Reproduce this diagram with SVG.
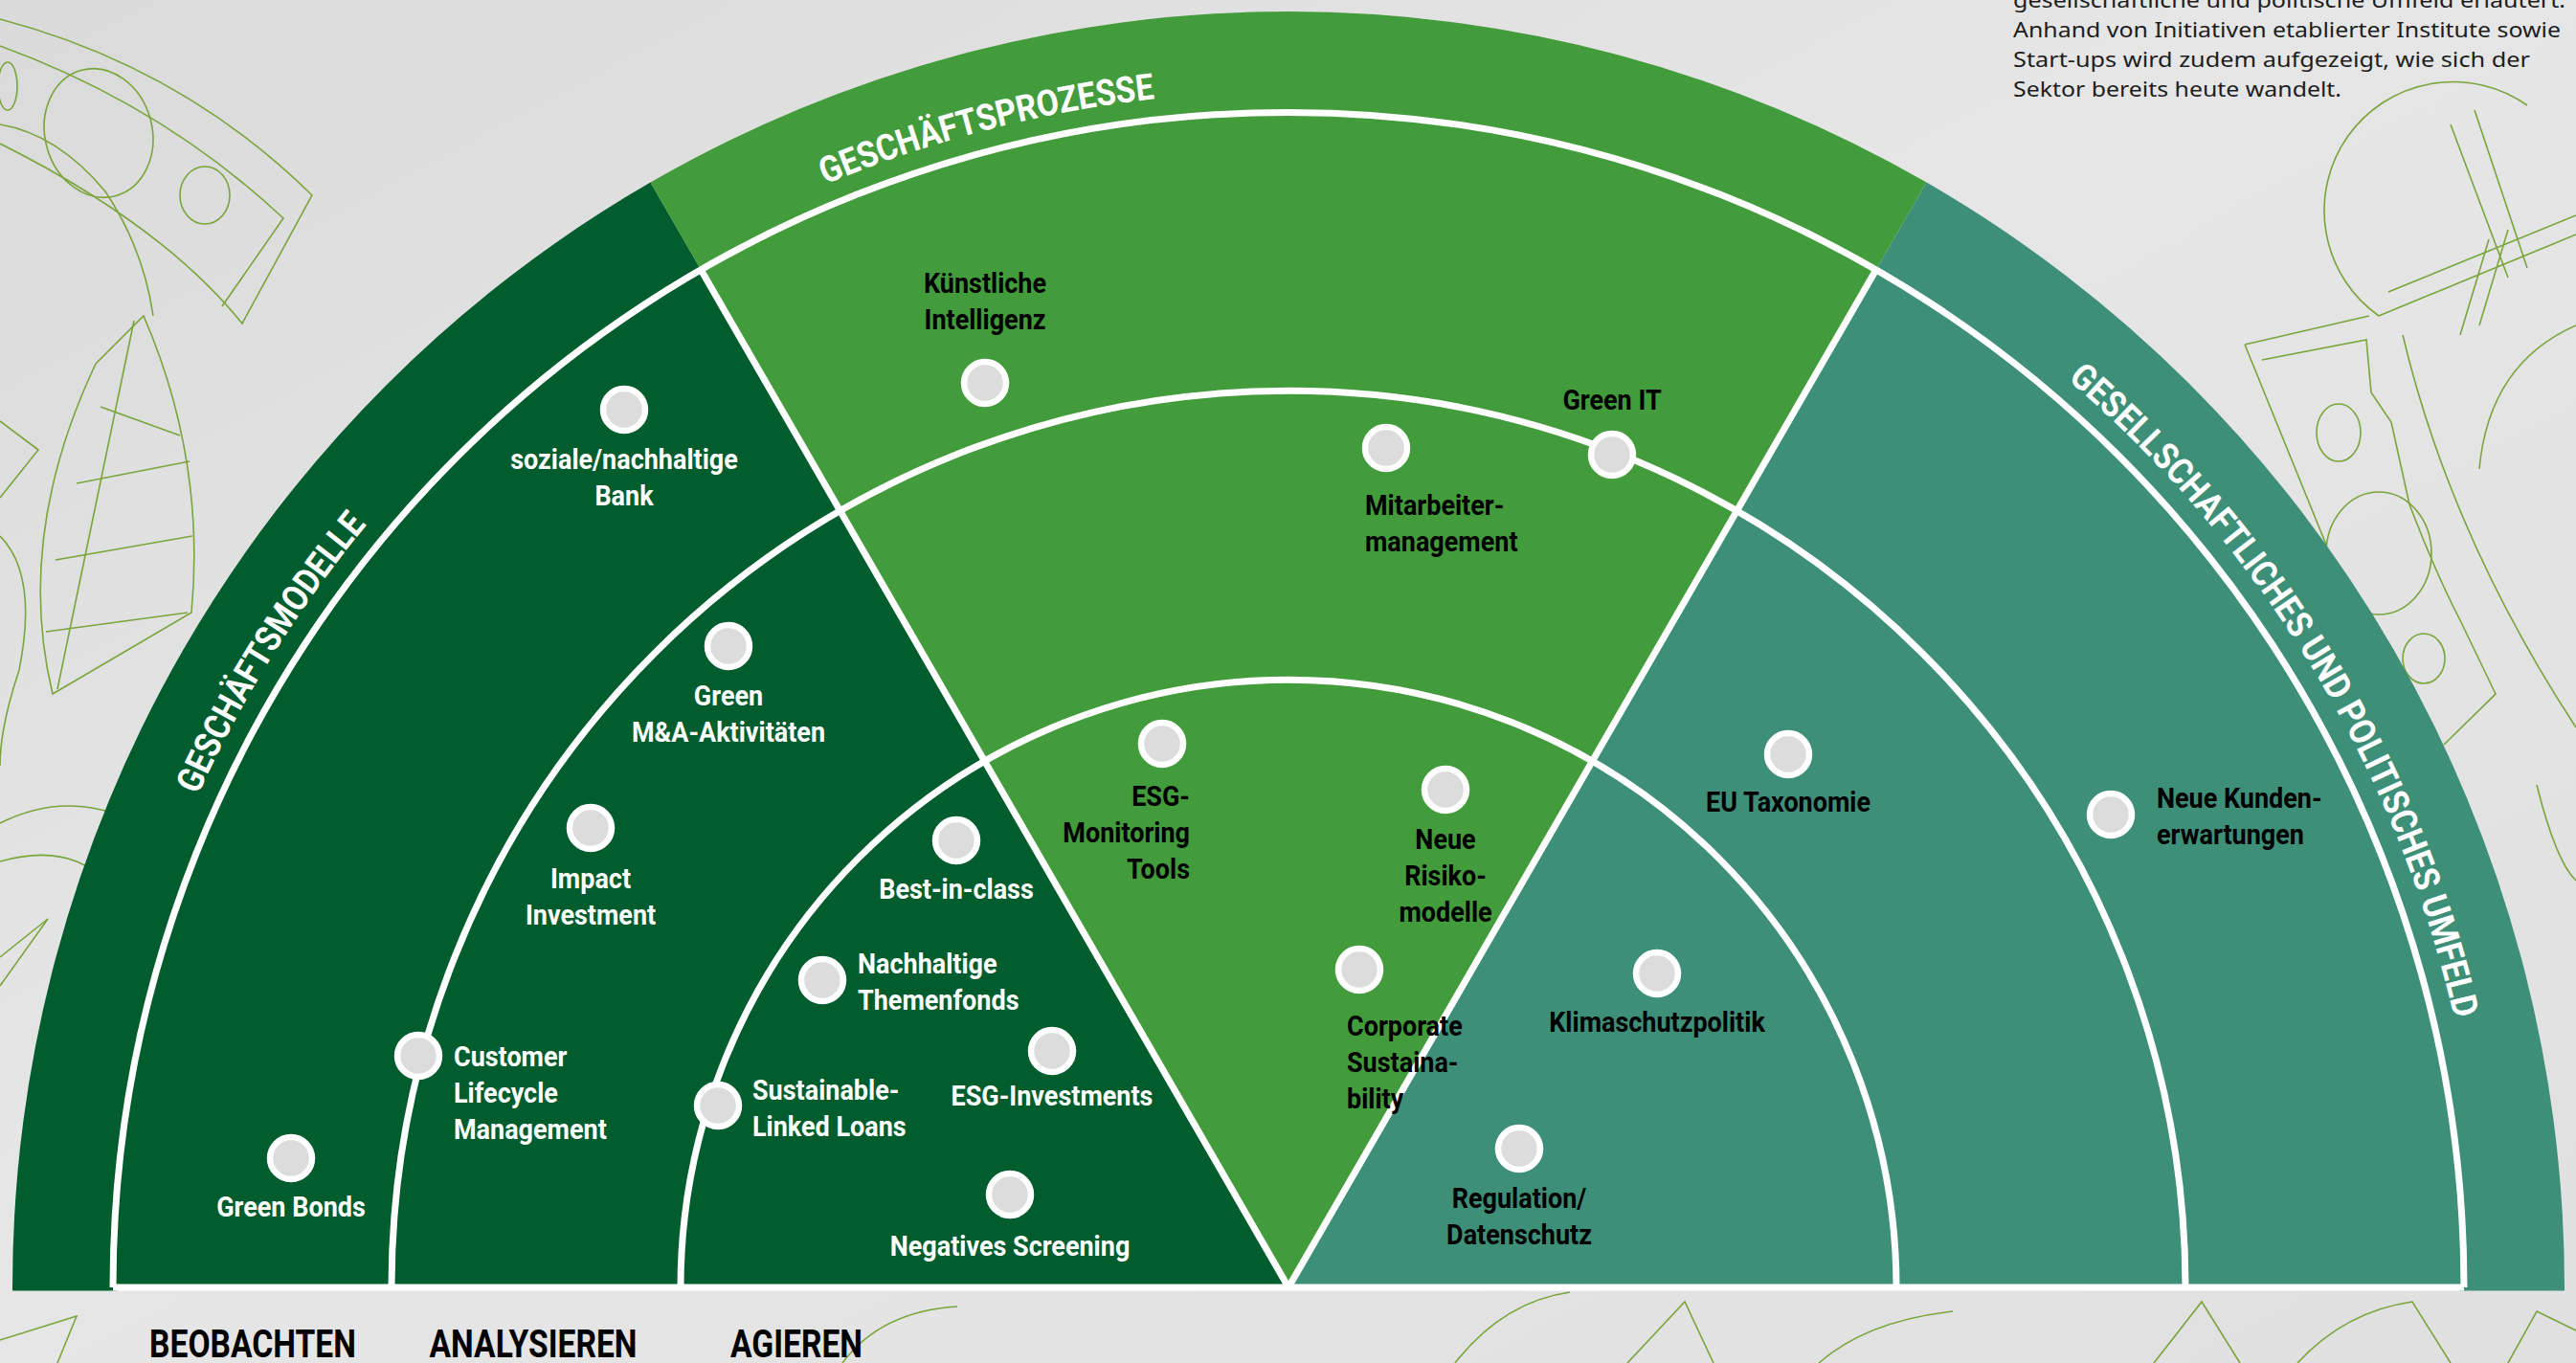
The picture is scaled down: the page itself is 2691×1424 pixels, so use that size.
<svg xmlns="http://www.w3.org/2000/svg" width="2691" height="1424" viewBox="0 0 2691 1424">
<defs>
<linearGradient id="bg" x1="0" y1="0" x2="1" y2="1">
<stop offset="0" stop-color="#dadada"/>
<stop offset="0.45" stop-color="#e6e6e6"/>
<stop offset="1" stop-color="#e0e0e0"/>
</linearGradient>
<path id="bandPath" d="M 96 1345 A 1250 1250 0 0 1 2596 1345"/>
<style>
.lw{font-family:Roboto,"Liberation Sans",sans-serif;font-weight:700;font-size:30px;fill:#ffffff}
.lb{font-family:Roboto,"Liberation Sans",sans-serif;font-weight:700;font-size:30px;fill:#000000}
.node circle{fill:#dcdcdc;stroke:#ffffff;stroke-width:6.5}
.ring{fill:none;stroke:#ffffff;stroke-width:7}
.band{font-family:Roboto,"Liberation Sans",sans-serif;font-weight:700;font-size:38px;fill:#ffffff}
.axis{font-family:Roboto,"Liberation Sans",sans-serif;font-weight:700;font-size:40px;fill:#000000}
.deco{fill:none;stroke:#7aa43c;stroke-width:1.6}
.para{font-family:"Noto Sans","Liberation Sans",sans-serif;font-size:22px;fill:#1d1d1d}
</style>
</defs>

<rect x="0" y="0" width="2691" height="1424" fill="url(#bg)"/>

<g id="decorations">
<path class="deco" d="M0 20 Q190 70 326 204 L253 338 Q170 235 0 150"/>
<path class="deco" d="M0 48 Q170 110 296 228 L232 320"/>
<ellipse class="deco" cx="103" cy="139" rx="56" ry="68" transform="rotate(-15 103 139)"/>
<ellipse class="deco" cx="214" cy="204" rx="26" ry="30"/>
<ellipse class="deco" cx="8" cy="90" rx="10" ry="25"/>
<path class="deco" d="M0 130 Q60 140 110 200 Q150 260 160 330"/>
<path class="deco" d="M150 330 Q215 480 200 640 L55 725 Q15 560 100 380 Z"/>
<path class="deco" d="M105 425 L188 455 M80 505 L198 482 M58 585 L201 560 M48 660 L196 640 M140 335 L60 720"/>
<path class="deco" d="M0 440 L40 470 L0 520 M0 560 Q40 600 20 700 Q0 760 0 800"/>
<path class="deco" d="M0 860 Q60 830 120 850 M0 900 Q70 880 110 920 M0 1000 L50 960 L0 1030"/>
<path class="deco" d="M2640 110 A125 125 0 0 0 2485 330 M2485 330 L2691 245 M2495 305 L2691 225 M2560 130 L2620 290 M2585 115 L2640 280 M2590 340 L2620 240 M2570 350 L2600 250"/>
<path class="deco" d="M2363 376 L2472 355 L2477 410 L2498 441 L2517 527 Q2545 600 2570 648 L2607 725 L2553 778"/>
<path class="deco" d="M2345 360 L2475 330 M2345 360 Q2390 470 2430 569"/>
<ellipse class="deco" cx="2443" cy="452" rx="23" ry="30"/>
<ellipse class="deco" cx="2485" cy="578" rx="55" ry="64"/>
<ellipse class="deco" cx="2532" cy="688" rx="22" ry="26"/>
<path class="deco" d="M2510 350 Q2560 560 2691 760 M2590 490 Q2600 380 2691 340 M2650 820 Q2670 900 2691 920"/>
<path class="deco" d="M0 1400 L80 1375 L60 1424 M1520 1424 Q1570 1360 1640 1350 M1700 1424 L1760 1360 L1790 1424 M1900 1424 Q1950 1380 2040 1370 M2250 1424 L2300 1360 L2340 1424 M2400 1424 Q2450 1370 2520 1360 L2560 1424 M2620 1424 L2650 1370 L2691 1390 M880 1424 Q920 1370 1000 1365"/>
</g>

<g id="para">
<text class="para" x="2103" y="8" textLength="577" lengthAdjust="spacingAndGlyphs">gesellschaftliche und politische Umfeld erläutert.</text>
<text class="para" x="2103" y="39" textLength="572" lengthAdjust="spacingAndGlyphs">Anhand von Initiativen etablierter Institute sowie</text>
<text class="para" x="2103" y="70" textLength="540" lengthAdjust="spacingAndGlyphs">Start-ups wird zudem aufgezeigt, wie sich der</text>
<text class="para" x="2103" y="101" textLength="343" lengthAdjust="spacingAndGlyphs">Sektor bereits heute wandelt.</text>
</g>

<g id="sectors">
<path id="sector-geschaeftsmodelle" d="M1346 1345 L13 1345 A1333 1333 0 0 1 679.5 190.6 Z" fill="#015c2e"/>
<path id="sector-geschaeftsprozesse" d="M1346 1345 L679.5 190.6 A1333 1333 0 0 1 2012.5 190.6 Z" fill="#439c3c"/>
<path id="sector-umfeld" d="M1346 1345 L2012.5 190.6 A1333 1333 0 0 1 2679 1345 Z" fill="#3e8f78"/>
<rect x="13" y="1344" width="110" height="4.5" fill="#015c2e"/>
<rect x="2569" y="1344" width="110" height="4.5" fill="#3e8f78"/>
</g>

<g id="connectors">
<path class="ring" d="M118 1345 A1228 1228 0 0 1 2574 1345"/>
<path class="ring" d="M409 1345 A937 937 0 0 1 2283 1345"/>
<path class="ring" d="M711 1345 A635 635 0 0 1 1981 1345"/>
<path class="ring" d="M1346 1345 L732 281.5"/>
<path class="ring" d="M1346 1345 L1960 281.5"/>
<path class="ring" d="M118 1345 L2574 1345"/>
</g>

<g id="band-labels">
<text class="band"><textPath href="#bandPath" startOffset="530" textLength="334" lengthAdjust="spacingAndGlyphs">GESCHÄFTSMODELLE</textPath></text>
<text class="band"><textPath href="#bandPath" startOffset="1466" textLength="357" lengthAdjust="spacingAndGlyphs">GESCHÄFTSPROZESSE</textPath></text>
<text class="band"><textPath href="#bandPath" startOffset="2849" textLength="794" lengthAdjust="spacingAndGlyphs">GESELLSCHAFTLICHES UND POLITISCHES UMFELD</textPath></text>
</g>

<g id="node-soziale-bank" class="node"><circle cx="652" cy="428" r="22"/><g transform="translate(652 490) scale(0.9 1)"><text class="lw" text-anchor="middle"><tspan x="0" y="0">soziale/nachhaltige</tspan><tspan x="0" y="38">Bank</tspan></text></g></g>
<g id="node-green-ma" class="node"><circle cx="761" cy="675" r="22"/><g transform="translate(761 737) scale(0.9 1)"><text class="lw" text-anchor="middle"><tspan x="0" y="0">Green</tspan><tspan x="0" y="38">M&amp;A-Aktivitäten</tspan></text></g></g>
<g id="node-impact" class="node"><circle cx="617" cy="865" r="22"/><g transform="translate(617 928) scale(0.9 1)"><text class="lw" text-anchor="middle"><tspan x="0" y="0">Impact</tspan><tspan x="0" y="38">Investment</tspan></text></g></g>
<g id="node-customer" class="node"><circle cx="437" cy="1103" r="22"/><g transform="translate(474 1114) scale(0.9 1)"><text class="lw"><tspan x="0" y="0">Customer</tspan><tspan x="0" y="38">Lifecycle</tspan><tspan x="0" y="76">Management</tspan></text></g></g>
<g id="node-green-bonds" class="node"><circle cx="304" cy="1210" r="22"/><g transform="translate(304 1271) scale(0.9 1)"><text class="lw" text-anchor="middle">Green Bonds</text></g></g>
<g id="node-best-in-class" class="node"><circle cx="999" cy="878" r="22"/><g transform="translate(999 939) scale(0.9 1)"><text class="lw" text-anchor="middle">Best-in-class</text></g></g>
<g id="node-themenfonds" class="node"><circle cx="859" cy="1024" r="22"/><g transform="translate(896 1017) scale(0.9 1)"><text class="lw"><tspan x="0" y="0">Nachhaltige</tspan><tspan x="0" y="38">Themenfonds</tspan></text></g></g>
<g id="node-esg-investments" class="node"><circle cx="1099" cy="1098" r="22"/><g transform="translate(1099 1155) scale(0.9 1)"><text class="lw" text-anchor="middle">ESG-Investments</text></g></g>
<g id="node-sustainable-loans" class="node"><circle cx="750" cy="1155" r="22"/><g transform="translate(786 1149) scale(0.9 1)"><text class="lw"><tspan x="0" y="0">Sustainable-</tspan><tspan x="0" y="38">Linked Loans</tspan></text></g></g>
<g id="node-negatives-screening" class="node"><circle cx="1055" cy="1248" r="22"/><g transform="translate(1055 1312) scale(0.9 1)"><text class="lw" text-anchor="middle">Negatives Screening</text></g></g>

<g id="node-ki" class="node"><circle cx="1029" cy="400" r="22"/><g transform="translate(1029 306) scale(0.9 1)"><text class="lb" text-anchor="middle"><tspan x="0" y="0">Künstliche</tspan><tspan x="0" y="38">Intelligenz</tspan></text></g></g>
<g id="node-green-it" class="node"><circle cx="1684" cy="475" r="22"/><g transform="translate(1684 428) scale(0.9 1)"><text class="lb" text-anchor="middle">Green IT</text></g></g>
<g id="node-mitarbeiter" class="node"><circle cx="1448" cy="468" r="22"/><g transform="translate(1426 538) scale(0.9 1)"><text class="lb"><tspan x="0" y="0">Mitarbeiter-</tspan><tspan x="0" y="38">management</tspan></text></g></g>
<g id="node-esg-monitoring" class="node"><circle cx="1214" cy="777" r="22"/><g transform="translate(1243 842) scale(0.9 1)"><text class="lb" text-anchor="end"><tspan x="0" y="0">ESG-</tspan><tspan x="0" y="38">Monitoring</tspan><tspan x="0" y="76">Tools</tspan></text></g></g>
<g id="node-risikomodelle" class="node"><circle cx="1510" cy="825" r="22"/><g transform="translate(1510 887) scale(0.9 1)"><text class="lb" text-anchor="middle"><tspan x="0" y="0">Neue</tspan><tspan x="0" y="38">Risiko-</tspan><tspan x="0" y="76">modelle</tspan></text></g></g>
<g id="node-corporate" class="node"><circle cx="1420" cy="1013" r="22"/><g transform="translate(1407 1082) scale(0.9 1)"><text class="lb"><tspan x="0" y="0">Corporate</tspan><tspan x="0" y="38">Sustaina-</tspan><tspan x="0" y="76">bility</tspan></text></g></g>

<g id="node-eu-taxonomie" class="node"><circle cx="1868" cy="788" r="22"/><g transform="translate(1868 848) scale(0.9 1)"><text class="lb" text-anchor="middle">EU Taxonomie</text></g></g>
<g id="node-kundenerwartungen" class="node"><circle cx="2205" cy="851" r="22"/><g transform="translate(2253 844) scale(0.9 1)"><text class="lb"><tspan x="0" y="0">Neue Kunden-</tspan><tspan x="0" y="38">erwartungen</tspan></text></g></g>
<g id="node-klimaschutz" class="node"><circle cx="1731" cy="1017" r="22"/><g transform="translate(1731 1078) scale(0.9 1)"><text class="lb" text-anchor="middle">Klimaschutzpolitik</text></g></g>
<g id="node-regulation" class="node"><circle cx="1587" cy="1200" r="22"/><g transform="translate(1587 1262) scale(0.9 1)"><text class="lb" text-anchor="middle"><tspan x="0" y="0">Regulation/</tspan><tspan x="0" y="38">Datenschutz</tspan></text></g></g>

<g id="axis-labels">
<g transform="translate(264 1418) scale(0.84 1)"><text class="axis" text-anchor="middle">BEOBACHTEN</text></g>
<g transform="translate(557 1418) scale(0.84 1)"><text class="axis" text-anchor="middle">ANALYSIEREN</text></g>
<g transform="translate(832 1418) scale(0.84 1)"><text class="axis" text-anchor="middle">AGIEREN</text></g>
</g>
</svg>
